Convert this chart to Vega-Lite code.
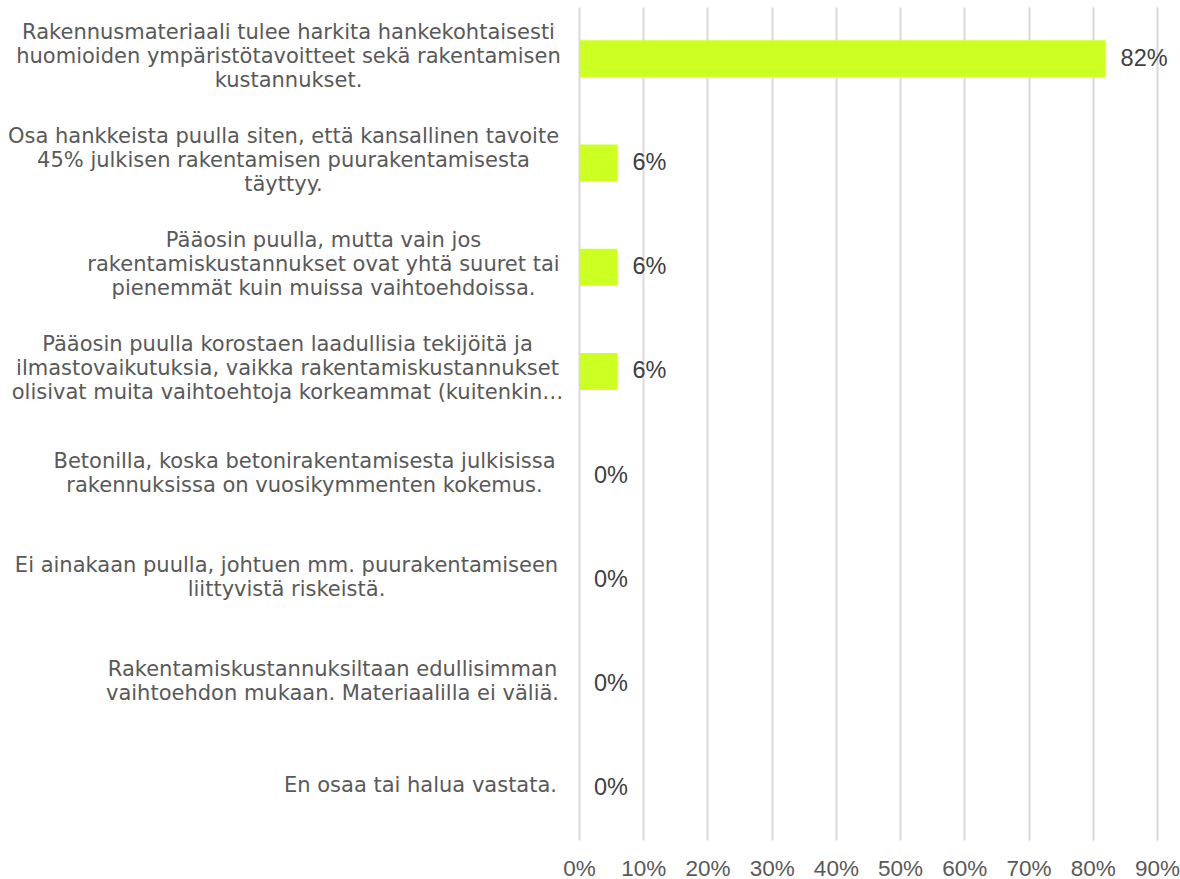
{
  "$schema": "https://vega.github.io/schema/vega-lite/v6.json",
  "autosize": "none",
  "padding": {"left": 579, "top": 7, "right": 23, "bottom": 39},
  "width": 578,
  "height": 833,
  "background": "white",
  "data": {
    "values": [
      {"vaihtoehto": "Rakennusmateriaali tulee harkita hankekohtaisesti|huomioiden ympäristötavoitteet sekä rakentamisen|kustannukset.", "osuus": 0.82},
      {"vaihtoehto": "Osa hankkeista puulla siten, että kansallinen tavoite|45% julkisen rakentamisen puurakentamisesta|täyttyy.", "osuus": 0.06},
      {"vaihtoehto": "Pääosin puulla, mutta vain jos|rakentamiskustannukset ovat yhtä suuret tai|pienemmät kuin muissa vaihtoehdoissa.", "osuus": 0.06},
      {"vaihtoehto": "Pääosin puulla korostaen laadullisia tekijöitä ja|ilmastovaikutuksia, vaikka rakentamiskustannukset|olisivat muita vaihtoehtoja korkeammat (kuitenkin…", "osuus": 0.06},
      {"vaihtoehto": "Betonilla, koska betonirakentamisesta julkisissa|rakennuksissa on vuosikymmenten kokemus.", "osuus": 0.0},
      {"vaihtoehto": "Ei ainakaan puulla, johtuen mm. puurakentamiseen|liittyvistä riskeistä.", "osuus": 0.0},
      {"vaihtoehto": "Rakentamiskustannuksiltaan edullisimman|vaihtoehdon mukaan. Materiaalilla ei väliä.", "osuus": 0.0},
      {"vaihtoehto": "En osaa tai halua vastata.", "osuus": 0.0}
    ]
  },
  "config": {
    "view": {"stroke": null},
    "font": "Liberation Sans",
    "axis": {
      "labelFont": "Liberation Sans",
      "labelColor": "#595959",
      "gridColor": "#d9d9d9",
      "gridWidth": 2
    }
  },
  "encoding": {
    "y": {
      "field": "vaihtoehto",
      "type": "nominal",
      "sort": null,
      "scale": {"paddingInner": 0.645, "paddingOuter": 0.32},
      "axis": {
        "title": null,
        "domain": false,
        "ticks": false,
        "grid": false,
        "labelExpr": "split(datum.label, '|')",
        "labelFont": "DejaVu Sans",
        "labelFontSize": 21,
        "labelLineHeight": 24,
        "labelAlign": "center",
        "labelPadding": {"expr": "[291, 296, 256, 292, 275, 293, 247, 159][round(datum.index * 7)]"},
        "labelOffset": {"expr": "-(length(split(datum.value, '|')) - 1) * 12 - 2"},
        "labelLimit": 700
      }
    },
    "x": {
      "field": "osuus",
      "type": "quantitative",
      "scale": {"domain": [0, 0.9], "nice": false},
      "axis": {
        "title": null,
        "domain": false,
        "ticks": false,
        "format": ".0%",
        "values": [0, 0.1, 0.2, 0.3, 0.4, 0.5, 0.6, 0.7, 0.8, 0.9],
        "labelFontSize": 22.5,
        "labelPadding": 17,
        "labelFlush": false,
        "labelOverlap": false
      }
    }
  },
  "layer": [
    {"mark": {"type": "bar", "color": "#ccff22"}},
    {
      "mark": {"type": "text", "align": "left", "baseline": "middle", "dx": 15, "fontSize": 23.5, "color": "#404040", "font": "Liberation Sans"},
      "encoding": {"text": {"field": "osuus", "type": "quantitative", "format": ".0%"}}
    }
  ]
}
